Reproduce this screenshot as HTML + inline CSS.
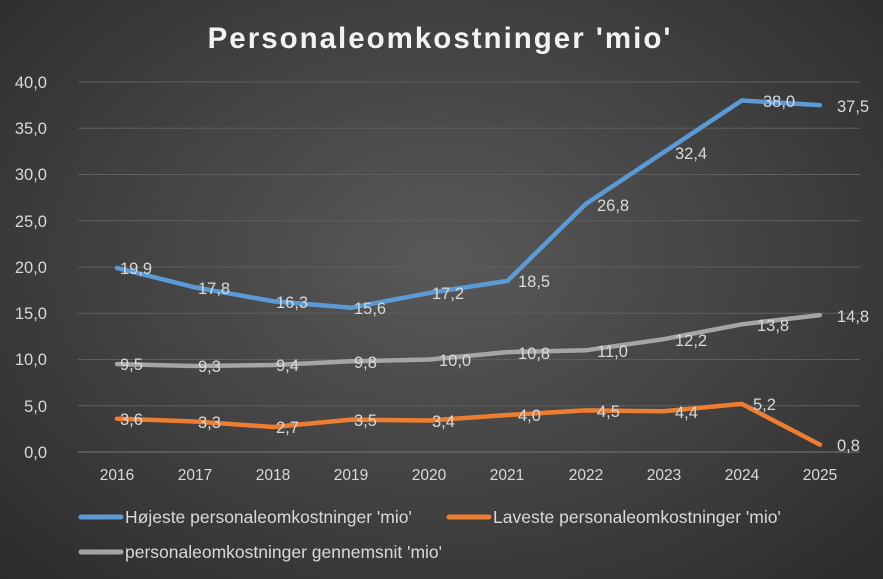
<!DOCTYPE html>
<html><head><meta charset="utf-8"><style>
html,body{margin:0;padding:0;}
body{width:883px;height:579px;overflow:hidden;background:radial-gradient(ellipse at 50% 45%,#595959 0%,#404040 55%,#2b2b2b 100%);font-family:"Liberation Sans",sans-serif;}
</style></head><body>
<svg width="883" height="579" xmlns="http://www.w3.org/2000/svg" style="position:absolute;left:0;top:0">
<text x="440" y="48" text-anchor="middle" fill="#f2f2f2" font-size="29.5" font-weight="bold" letter-spacing="2" font-family="Liberation Sans, sans-serif">Personaleomkostninger 'mio'</text>
<g stroke="#5e5e5e" stroke-width="1">
<line x1="78" x2="860" y1="82" y2="82"/><line x1="78" x2="860" y1="128.2" y2="128.2"/><line x1="78" x2="860" y1="174.5" y2="174.5"/><line x1="78" x2="860" y1="220.8" y2="220.8"/><line x1="78" x2="860" y1="267" y2="267"/><line x1="78" x2="860" y1="313.2" y2="313.2"/><line x1="78" x2="860" y1="359.5" y2="359.5"/><line x1="78" x2="860" y1="405.8" y2="405.8"/><line x1="78" x2="860" y1="452" y2="452" stroke="#777"/>
</g>
<g fill="#d9d9d9" font-size="16.5" text-anchor="end" font-family="Liberation Sans, sans-serif">
<text x="47" y="88">40,0</text><text x="47" y="134">35,0</text><text x="47" y="180">30,0</text><text x="47" y="227">25,0</text><text x="47" y="273">20,0</text><text x="47" y="319">15,0</text><text x="47" y="365">10,0</text><text x="47" y="412">5,0</text><text x="47" y="458">0,0</text>
</g>
<g fill="#d9d9d9" font-size="15.5" text-anchor="middle" font-family="Liberation Sans, sans-serif">
<text x="117" y="480">2016</text><text x="195" y="480">2017</text><text x="273" y="480">2018</text><text x="351" y="480">2019</text><text x="429" y="480">2020</text><text x="507" y="480">2021</text><text x="586" y="480">2022</text><text x="664" y="480">2023</text><text x="742" y="480">2024</text><text x="820" y="480">2025</text>
</g>
<g fill="none" stroke-width="4.5" stroke-linejoin="round" stroke-linecap="round">
<polyline stroke="#5b9bd5" points="117,267.9 195.1,287.4 273.2,301.2 351.3,307.7 429.4,292.9 507.5,280.9 585.6,204.1 663.7,152.3 741.8,100.5 819.9,105.1"/>
<polyline stroke="#a5a5a5" points="117,364.1 195.1,366 273.2,365 351.3,361.3 429.4,359.5 507.5,352.1 585.6,350.3 663.7,339.2 741.8,324.3 819.9,315.1"/>
<polyline stroke="#ed7d31" points="117,418.7 195.1,421.5 273.2,427 351.3,419.6 429.4,420.5 507.5,415 585.6,410.4 663.7,411.3 741.8,403.9 819.9,444.6"/>
</g>
<g fill="#d9d9d9" font-size="16.5" font-family="Liberation Sans, sans-serif">
<text x="120" y="274">19,9</text><text x="198" y="294">17,8</text><text x="276" y="308">16,3</text><text x="354" y="314">15,6</text><text x="432" y="299">17,2</text><text x="518" y="287">18,5</text><text x="597" y="211">26,8</text><text x="675" y="159">32,4</text><text x="763" y="107">38,0</text><text x="837" y="112">37,5</text>
<text x="120" y="370">9,5</text><text x="198" y="372">9,3</text><text x="276" y="371">9,4</text><text x="354" y="368">9,8</text><text x="439" y="366">10,0</text><text x="518" y="359">10,8</text><text x="597" y="357">11,0</text><text x="675" y="346">12,2</text><text x="757" y="331">13,8</text><text x="837" y="322">14,8</text>
<text x="120" y="425">3,6</text><text x="198" y="428">3,3</text><text x="276" y="433">2,7</text><text x="354" y="426">3,5</text><text x="432" y="427">3,4</text><text x="518" y="421">4,0</text><text x="597" y="417">4,5</text><text x="675" y="418">4,4</text><text x="753" y="410">5,2</text><text x="837" y="451">0,8</text>
</g>
<g stroke-width="5" stroke-linecap="round">
<line x1="81" x2="121" y1="517" y2="517" stroke="#5b9bd5"/>
<line x1="449" x2="489" y1="517" y2="517" stroke="#ed7d31"/>
<line x1="81" x2="121" y1="552" y2="552" stroke="#a5a5a5"/>
</g>
<g fill="#d9d9d9" font-size="17.5" font-family="Liberation Sans, sans-serif">
<text x="125" y="523">Højeste personaleomkostninger 'mio'</text>
<text x="493" y="523">Laveste personaleomkostninger 'mio'</text>
<text x="125" y="558">personaleomkostninger gennemsnit 'mio'</text>
</g>
</svg>
</body></html>
